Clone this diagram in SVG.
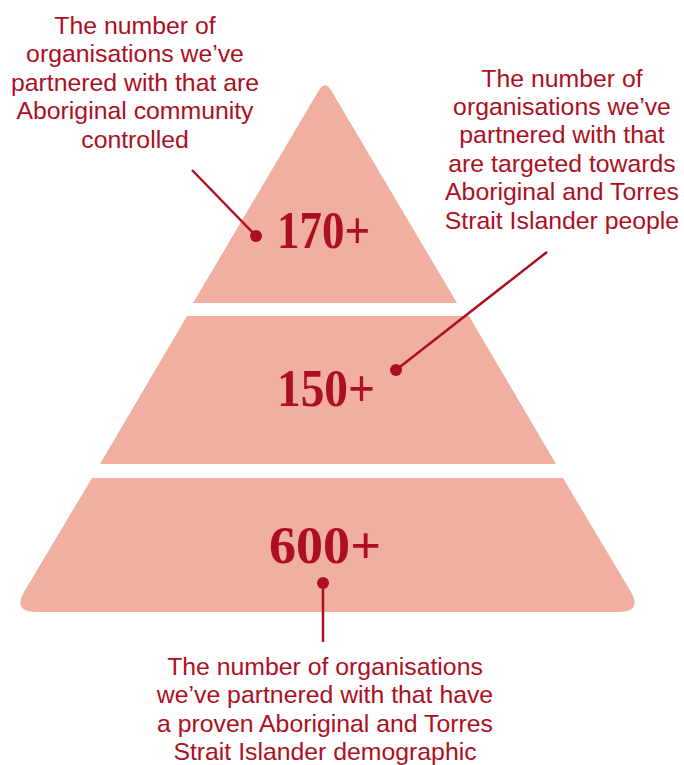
<svg xmlns="http://www.w3.org/2000/svg" width="684" height="765" viewBox="0 0 684 765">
  <style>
    .tier { fill: #F0AFA0; }
    .num { font-family: "Liberation Serif", "DejaVu Serif", serif; font-weight: bold; font-size: 52px; fill: #AD0F22; }
    .cap { font-family: "Liberation Sans", Arial, sans-serif; font-size: 24.8px; fill: #AD0F22; text-anchor: middle; }
    .lead { stroke: #AD0F22; stroke-width: 2.5; fill: none; }
    .dot { fill: #AD0F22; }
  </style>
  <rect width="684" height="765" fill="#FFFFFF"/>

  <!-- Top tier -->
  <g id="tier-top">
    <path class="tier" d="M193,303 L318.9,90.3 Q325,80 331.1,90.3 L457,303 Z"/>
    <text class="num" x="277" y="248" textLength="93" lengthAdjust="spacingAndGlyphs">170+</text>
  </g>

  <!-- Middle tier -->
  <g id="tier-middle">
    <path class="tier" d="M187,316 L469,316 L556,464 L100,464 Z"/>
    <text class="num" x="277" y="406" textLength="98" lengthAdjust="spacingAndGlyphs">150+</text>
  </g>

  <!-- Bottom tier -->
  <g id="tier-bottom">
    <path class="tier" d="M92,478 L563,478 L631,592 Q642,612 619,612 L36,612 Q13,612 24,592 Z"/>
    <text class="num" x="269" y="563" textLength="112" lengthAdjust="spacingAndGlyphs">600+</text>
  </g>

  <!-- Captions -->
  <g id="caption-top-left">
    <text class="cap" x="135" y="33.5">The number of</text>
    <text class="cap" x="135" y="62">organisations we’ve</text>
    <text class="cap" x="135" y="90.5">partnered with that are</text>
    <text class="cap" x="135" y="119">Aboriginal community</text>
    <text class="cap" x="135" y="147.5">controlled</text>
  </g>

  <g id="caption-right">
    <text class="cap" x="562" y="86.7">The number of</text>
    <text class="cap" x="562" y="115">organisations we’ve</text>
    <text class="cap" x="562" y="143.4">partnered with that</text>
    <text class="cap" x="562" y="171.8">are targeted towards</text>
    <text class="cap" x="562" y="200.2">Aboriginal and Torres</text>
    <text class="cap" x="562" y="228.6">Strait Islander people</text>
  </g>

  <g id="caption-bottom">
    <text class="cap" x="325" y="675">The number of organisations</text>
    <text class="cap" x="325" y="703.3">we’ve partnered with that have</text>
    <text class="cap" x="325" y="731.6">a proven Aboriginal and Torres</text>
    <text class="cap" x="325" y="759.9">Strait Islander demographic</text>
  </g>

  <!-- Leader lines -->
  <g id="connectors">
    <line class="lead" x1="192" y1="170" x2="256" y2="236"/>
    <circle class="dot" cx="256" cy="236" r="6"/>
    <line class="lead" x1="547" y1="252" x2="396" y2="370"/>
    <circle class="dot" cx="396" cy="370" r="6"/>
    <line class="lead" x1="323" y1="583" x2="323" y2="642"/>
    <circle class="dot" cx="323" cy="583" r="6"/>
  </g>
</svg>
